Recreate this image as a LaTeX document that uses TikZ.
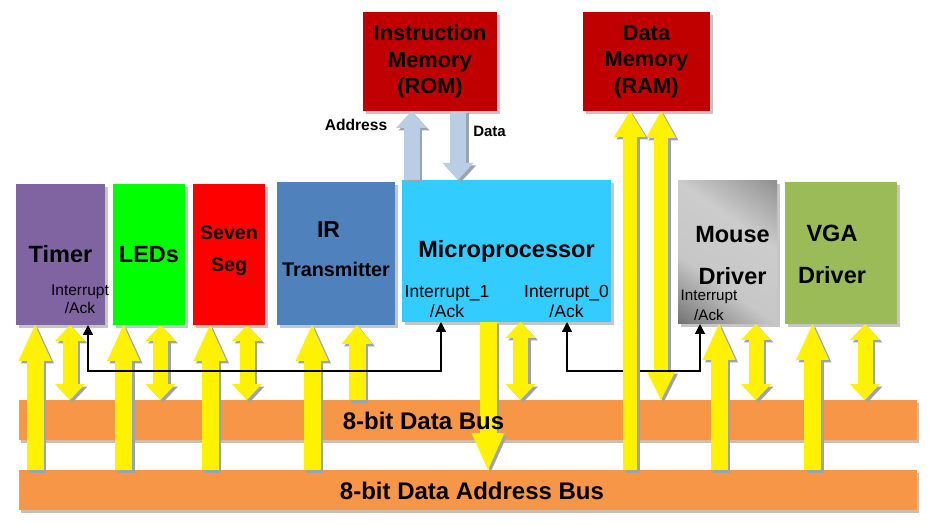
\documentclass[tikz,border=0pt]{standalone}
\usepackage{fontspec}
\setmainfont{Liberation Sans}
\usetikzlibrary{arrows.meta,calc,shadows}

\definecolor{timerc}{HTML}{8064A2}
\definecolor{ledsc}{HTML}{00FF00}
\definecolor{sevenc}{HTML}{FF0000}
\definecolor{irc}{HTML}{4F81BD}
\definecolor{microc}{HTML}{33CCFF}
\definecolor{vgac}{HTML}{9BBB59}
\definecolor{memc}{HTML}{C00000}
\definecolor{busc}{HTML}{F79646}
\definecolor{romarrc}{HTML}{B9CDE5}
\definecolor{shadowc}{HTML}{9AA3B0}
\pgfdeclarehorizontalshading{mousegrad}{100bp}{color(0bp)=(black!82); color(20bp)=(black!48); color(38bp)=(black!22); color(62bp)=(black!20); color(80bp)=(black!38); color(100bp)=(black!65)}

\begin{document}
\begin{tikzpicture}[x=1pt, y=-1pt]
    \tikzstyle{blockbox} = [anchor=north west, inner sep=0pt, outer sep=0pt, align=center, drop shadow={shadow xshift=3pt, shadow yshift=-3pt, fill=black!45, opacity=0.5}]
    \tikzstyle{bigtext} = [font=\fontsize{23.5}{42}\selectfont\bfseries]
    \tikzstyle{midtext} = [font=\fontsize{19.6}{32}\selectfont\bfseries]
    \tikzstyle{memtext} = [font=\fontsize{21.8}{26.5}\selectfont\bfseries]
    \tikzstyle{busbar} = [anchor=north west, inner sep=0pt, outer sep=0pt, fill=busc, minimum width=898pt, minimum height=40pt, drop shadow={shadow xshift=1.5pt, shadow yshift=-3pt, fill=brown!70!black, opacity=0.4}]
    \tikzstyle{buslabel} = [font=\fontsize{24}{28}\selectfont\bfseries]
    \tikzstyle{irqtext} = [align=center, inner sep=0pt, font=\fontsize{15.5}{18}\selectfont]
    \tikzstyle{arrshadow} = [draw=shadowc, transform canvas={shift={(2.5pt,-2.5pt)}}]
    \tikzstyle{busup} = [draw=yellow, line width=17pt, -{Triangle[width=33pt, length=36pt, line width=0pt]}]
    \tikzstyle{busdown} = [draw=yellow, line width=17pt, {Triangle[width=33pt, length=37pt, line width=0pt]}-]
    \tikzstyle{busin} = [draw=yellow, line width=17pt, -{Triangle[width=31pt, length=19pt, line width=0pt]}]
    \tikzstyle{busboth} = [draw=yellow, line width=15pt, {Triangle[width=30pt, length=16pt, line width=0pt]}-{Triangle[width=30pt, length=16pt, line width=0pt]}]
    \tikzstyle{ramup} = [draw=yellow, line width=14pt, -{Triangle[width=32pt, length=26pt, line width=0pt]}]
    \tikzstyle{ramboth} = [draw=yellow, line width=14pt, {Triangle[width=29pt, length=29pt, line width=0pt]}-{Triangle[width=30pt, length=27pt, line width=0pt]}]
    \tikzstyle{romarrow} = [draw=romarrc, line width=16pt, -{Triangle[width=31pt, length=17pt, line width=0pt]}]
    \tikzstyle{irq} = [draw=black, line width=1.3pt, {Triangle[width=10pt, length=10pt]}-{Triangle[width=10pt, length=10pt]}]
    \useasboundingbox (0,0) rectangle (934,526);

    \node at (363,12) [blockbox, fill=memc, minimum width=134pt, minimum height=99pt, memtext] (rom) {Instruction\\Memory\\(ROM)};
    \node at (583,12) [blockbox, fill=memc, minimum width=127pt, minimum height=99pt, memtext] (ram) {Data\\Memory\\(RAM)};
    \node at (16,184) [blockbox, fill=timerc, minimum width=89pt, minimum height=141pt, bigtext] (timer) {Timer};
    \node at (113,184) [blockbox, fill=ledsc, minimum width=72pt, minimum height=141pt, bigtext] (leds) {LEDs};
    \node at (193,184) [blockbox, fill=sevenc, minimum width=72pt, minimum height=141pt, midtext, text depth=11pt] (seven) {Seven\\Seg};
    \node at (277,182) [blockbox, fill=irc, minimum width=118pt, minimum height=143pt, text depth=8pt, font=\fontsize{19.8}{39}\selectfont\bfseries] (ir) {{\fontsize{23}{39}\selectfont IR\hspace*{15pt}}\\Transmitter};
    \node at (402,180) [blockbox, fill=microc, minimum width=209pt, minimum height=142pt, bigtext] (micro) {Microprocessor};
    \node at (678,181) [blockbox, shading=mousegrad, shading angle=55, minimum width=99pt, minimum height=143pt,
      label={[bigtext, align=center, xshift=5pt, yshift=-3pt]center:Mouse\\Driver}] (mouse) {};
    \node at (785,182) [blockbox, fill=vgac, minimum width=112pt, minimum height=142pt,
      label={[bigtext, align=center, xshift=-9pt, yshift=-1pt]center:VGA\\Driver}] (vga) {};

    \node at (19,400) [busbar] (databus) {};
    \node at (19,470) [busbar] (addrbus) {};

    \foreach \blk/\dx/\tobus/\kind in {timer/19/addrbus/busup, timer/54/databus/busboth,
      leds/10.5/addrbus/busup, leds/47.5/databus/busboth, seven/17/addrbus/busup, seven/54/databus/busboth,
      ir/35/addrbus/busup, ir/80/databus/busin, micro/86/addrbus/busdown, micro/118.5/databus/busboth,
      mouse/41/addrbus/busup, mouse/78/databus/busboth, vga/27.5/addrbus/busup, vga/80/databus/busboth}
    {
      \coordinate (p) at ($(\blk.south west)+(\dx,0)$);
      \draw[\kind, arrshadow] (p |- \tobus.north) -- (p);
      \draw[\kind] (p |- \tobus.north) -- (p);
    }

    \coordinate (micro-addr) at ($(micro.north west)+(9.5,0)$);
    \coordinate (micro-data) at ($(micro.north west)+(56,0)$);
    \draw[romarrow, arrshadow] (micro-addr) -- (micro-addr |- rom.south);
    \draw[romarrow] (micro-addr) -- (micro-addr |- rom.south);
    \draw[romarrow, arrshadow] (micro-data |- rom.south) -- (micro-data);
    \draw[romarrow] (micro-data |- rom.south) -- (micro-data);
    \node at (356,125) [font=\fontsize{15.6}{18}\selectfont\bfseries] (addr-label) {Address};
    \node at (489.5,131) [font=\fontsize{15}{18}\selectfont\bfseries] (data-label) {Data};

    \coordinate (ram-addr) at ($(ram.south west)+(47,0)$);
    \coordinate (ram-data) at ($(ram.south west)+(78,0)$);
    \draw[ramboth, arrshadow] (ram-data |- databus.north) -- (ram-data);
    \draw[ramboth] (ram-data |- databus.north) -- (ram-data);

    \coordinate (timer-irq) at ($(timer.south west)+(72,0)$);
    \coordinate (micro-irq1) at ($(micro.south west)+(39,0)$);
    \coordinate (micro-irq0) at ($(micro.south west)+(165,0)$);
    \coordinate (mouse-irq) at ($(mouse.south west)+(22,0)$);
    \draw[irq] (timer-irq) -- ++(0,46) -| (micro-irq1);
    \draw[irq] (micro-irq0) -- ++(0,49) -| (mouse-irq);

    \draw[ramup, arrshadow] (ram-addr |- addrbus.north) -- (ram-addr);
    \draw[ramup] (ram-addr |- addrbus.north) -- (ram-addr);

    \node at (80,299.6) [irqtext] (timer-int) {Interrupt\\/Ack};
    \node at (447,301.4) [irqtext, font=\fontsize{17.5}{20}\selectfont] (micro-int1) {Interrupt\_1\\/Ack};
    \node at (566.5,301.4) [irqtext, font=\fontsize{17.5}{20}\selectfont] (micro-int0) {Interrupt\_0\\/Ack};
    \node at (709,305.7) [irqtext, font=\fontsize{15.2}{20}\selectfont] (mouse-int) {Interrupt\\/Ack};

    \node at (423.5,421) [buslabel] (databus-label) {8-bit Data Bus};
    \node at (472,491) [buslabel] (addrbus-label) {8-bit Data Address Bus};
\end{tikzpicture}
\end{document}
